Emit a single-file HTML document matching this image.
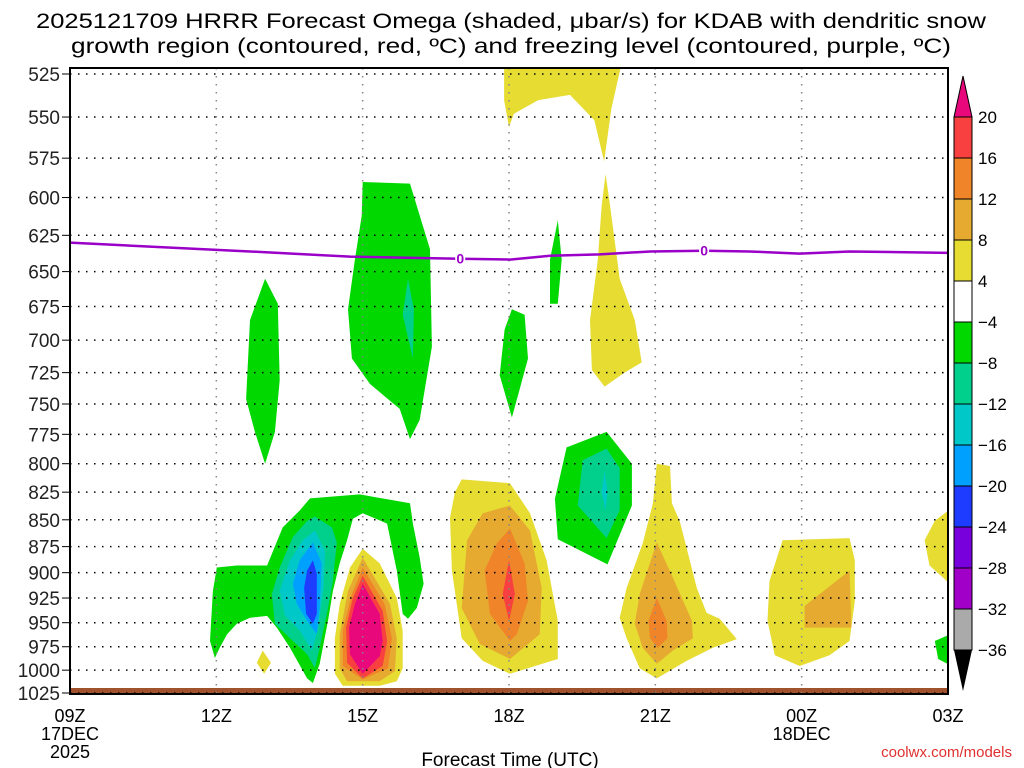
<!DOCTYPE html>
<html><head><meta charset="utf-8"><style>
html,body{margin:0;padding:0;background:#fff;}
svg{display:block;font-family:"Liberation Sans",sans-serif;}
</style></head><body>
<svg id="chart" width="1024" height="768" viewBox="0 0 1024 768">
<text x="511" y="28" font-size="21" text-anchor="middle" textLength="950" lengthAdjust="spacingAndGlyphs">2025121709 HRRR Forecast Omega (shaded, μbar/s) for KDAB with dendritic snow</text>
<text x="511" y="53" font-size="21" text-anchor="middle" textLength="880" lengthAdjust="spacingAndGlyphs">growth region (contoured, red, ºC) and freezing level (contoured, purple, ºC)</text>
<g id="shades"></g>
<g id="grid"></g>
<g id="frz"></g>
<rect x="70" y="68" width="878" height="626" fill="none" stroke="#000" stroke-width="2"/>
<g id="yax"></g>
<g id="xax"></g>
<text x="510" y="766" font-size="19" text-anchor="middle">Forecast Time (UTC)</text>
<text x="1012" y="757" font-size="15" text-anchor="end" fill="#e03030">coolwx.com/models</text>
<g id="cbar"></g>
</svg>
<script>
const pressureTicks=[525,550,575,600,625,650,675,700,725,750,775,800,825,850,875,900,925,950,975,1000,1025];
const timeTicks=[0,3,6,9,12,15,18];
const timeLabels=["09Z","12Z","15Z","18Z","21Z","00Z","03Z"];
const dateLabels={0:["17DEC","2025"],15:["18DEC"]};
const cbLevels=[20,16,12,8,4,-4,-8,-12,-16,-20,-24,-28,-32,-36];
const cbColors=["#f84040","#f08428","#e6aa30","#e6dc32","#ffffff","#00d800","#00d08c","#00c8c8","#00a0ff","#1e3cff","#7800dc","#a000c8","#aaaaaa"];
const C={y:"#e6dc32",g:"#e6aa30",o:"#f08428",r:"#f84040",m:"#e8087c",gr:"#00d800",te:"#00d08c",cy:"#00c8c8",bl:"#00a0ff",db:"#1e3cff"};
const regions=[
["y",[[8.9,520],[11.3,520],[11.1,545],[10.95,577],[10.75,552],[10.25,537],[9.6,540],[9.1,548],[9.0,556],[8.9,540]]],
["y",[[10.98,585],[11.07,605],[11.27,655],[11.58,685],[11.72,717],[11.37,725],[10.96,736],[10.7,723],[10.66,685],[10.82,641.6],[10.9,605]]],
["gr",[[6.0,590],[6.97,591],[7.38,634.5],[7.42,705],[7.17,763],[6.97,779],[6.76,754],[6.15,734],[5.78,714],[5.70,677],[5.84,641.6],[5.98,612]]],
["te",[[6.93,655],[7.05,677],[7.03,714],[6.82,681]]],
["gr",[[4.0,655],[4.26,673],[4.30,731],[4.2,773],[4.0,800],[3.79,773],[3.61,746],[3.69,685]]],
["gr",[[9.06,677],[9.32,681],[9.39,714],[9.22,738],[9.06,761],[8.81,727],[8.91,692]]],
["gr",[[10.0,615],[10.08,641.6],[10.0,673],[9.84,673],[9.84,641.6]]],
["gr",[[11.0,773],[11.52,800],[11.52,837],[11.02,892],[10.0,868],[9.94,831],[10.18,786]]],
["te",[[11.0,787],[11.27,804],[11.27,841],[11.0,867],[10.41,837],[10.51,797]]],
["cy",[[10.96,806],[11.02,825],[10.98,842],[10.9,825]]],
["gr",[[4.92,830.6],[5.94,827],[6.97,835],[7.03,853.5],[7.17,885.5],[7.25,911],[7.11,935],[6.93,946],[6.82,941],[6.70,898],[6.50,853.5],[6.0,844],[5.80,849],[5.68,869],[5.53,891],[5.39,918],[5.29,948],[5.12,993],[4.98,1014],[4.86,1009],[4.51,976],[4.24,955],[4.04,943],[3.69,945],[3.42,951],[3.22,962],[3.07,976],[2.97,987],[2.87,969],[2.93,918],[3.01,895],[3.42,893],[4.04,893],[4.36,857],[4.71,841.5]]],
["te",[[5.02,847],[5.37,857],[5.47,871],[5.39,908],[5.29,935],[5.12,976],[5.02,998],[4.86,983],[4.51,966],[4.2,951],[4.14,921],[4.3,895],[4.57,866],[4.86,851]]],
["cy",[[5.02,860],[5.23,879],[5.2,915],[5.08,958],[4.96,979],[4.71,958],[4.41,943],[4.3,918],[4.51,888],[4.77,869]]],
["bl",[[4.98,871],[5.16,891],[5.12,935],[5.06,962],[4.86,948],[4.65,931],[4.57,911],[4.71,888]]],
["db",[[4.98,888],[5.06,901],[5.06,941],[4.98,951],[4.84,941],[4.8,915],[4.86,898]]],
["y",[[3.95,979],[4.12,992],[3.98,1004],[3.83,992]]],
["y",[[6.0,877],[6.35,891],[6.70,925],[6.82,958.5],[6.82,998],[6.70,1012],[6.35,1017],[5.59,1017],[5.43,1004],[5.43,966],[5.53,931],[5.74,895]]],
["g",[[6.0,885.5],[6.56,931],[6.70,966],[6.66,1001],[6.35,1012],[5.68,1012],[5.53,998],[5.53,962],[5.70,918]]],
["o",[[6.0,895],[6.45,931],[6.60,966],[6.52,998],[6.0,1010],[5.59,995.5],[5.59,958.5],[5.78,921]]],
["r",[[6.0,903],[6.41,938],[6.50,969],[6.41,995.5],[6.0,1009],[5.68,992],[5.66,955],[5.80,925]]],
["m",[[6.0,911],[6.35,941],[6.41,969],[6.35,985],[6.0,1004],[5.74,983],[5.72,955],[5.84,931]]],
["y",[[8.03,813.7],[9.02,817],[9.43,844],[9.77,888],[10.0,948],[10.0,988],[9.02,1004],[8.46,990],[8.03,966],[7.83,898],[7.79,848],[7.89,825]]],
["g",[[9.02,837],[9.43,860],[9.67,915],[9.63,962],[9.02,988],[8.40,972],[8.03,935],[8.14,869],[8.46,844]]],
["o",[[9.02,858],[9.32,891],[9.39,928],[9.16,962],[9.02,969],[8.61,941],[8.50,898],[8.75,872]]],
["r",[[9.0,888],[9.12,921],[9.0,948],[8.87,921]]],
["y",[[12.03,800],[12.30,802],[12.34,835],[12.5,851],[12.85,915],[13.05,940],[13.32,946],[13.67,967],[13.18,976],[12.64,990],[12.03,1009],[11.68,998],[11.41,966],[11.27,945],[11.41,915],[11.74,872],[11.95,835]]],
["g",[[12.03,871],[12.36,905],[12.75,948],[12.77,966],[12.36,979],[12.03,993],[11.74,976],[11.58,951],[11.68,921]]],
["o",[[12.03,925],[12.23,948],[12.25,966],[12.05,976],[11.89,966],[11.86,948]]],
["y",[[14.61,869],[15.98,867],[16.09,888],[16.09,928],[15.98,969],[15.57,984],[14.96,995.5],[14.45,984],[14.30,948],[14.34,908]]],
["g",[[15.06,933],[15.98,898],[16.02,955],[15.06,955]]],
["y",[[18.2,835],[17.73,851],[17.52,869],[17.62,893],[18.2,918]]],
["gr",[[18.2,958.5],[17.73,969],[17.8,988],[18.2,999]]]
];
const frzHours=[0,1.64,3.69,5.74,7.99,9.02,9.84,10.86,11.89,13.01,13.93,14.96,15.98,18];
const frzPres=[630,632.7,636,639.6,641,641.6,639,638,636,635.5,636,637.5,636,637];
const frzLabelHours=[8,13];

const NS="http://www.w3.org/2000/svg";
const X0=70,X1=948,Y0=74,Y1=693;
const lnTop=Math.log(525),lnBot=Math.log(1025);
function xs(h){return X0+h*(X1-X0)/18;}
function ys(p){return Y0+(Math.log(p)-lnTop)*(Y1-Y0)/(lnBot-lnTop);}
function mk(tag,attrs,parent){const e=document.createElementNS(NS,tag);for(const k in attrs)e.setAttribute(k,attrs[k]);parent.appendChild(e);return e;}

const clip=mk("clipPath",{id:"pc"},document.getElementById("chart"));
mk("rect",{x:X0,y:68,width:X1-X0,height:Y1-68+1},clip);
const sh=document.getElementById("shades");
sh.setAttribute("clip-path","url(#pc)");
regions.forEach((r,i)=>{
  const pts=r[1].map(q=>xs(q[0]).toFixed(1)+","+ys(q[1]).toFixed(1)).join(" ");
  const e=mk("polygon",{points:pts,fill:C[r[0]],"stroke-linejoin":"round"},sh);
  
  
});
const gnd=mk("rect",{x:X0,y:688,width:X1-X0,height:6,fill:"#a0522d"},sh);



const gr=document.getElementById("grid");
pressureTicks.forEach(p=>{
  const y=ys(p);
  const l=mk("line",{x1:X0,x2:X1,y1:y,y2:y,stroke:"#000","stroke-width":1.5,"stroke-dasharray":"1.5 6.5"},gr);
  
  
});
timeTicks.forEach(h=>{
  const x=xs(h);
  const l=mk("line",{x1:x,x2:x,y1:68,y2:Y1,stroke:"#888","stroke-width":1.5,"stroke-dasharray":"1.5 6.5"},gr);
  
  
});

const fz=document.getElementById("frz");
const fp=mk("polyline",{points:frzHours.map((h,i)=>xs(h)+","+ys(frzPres[i])).join(" "),fill:"none",stroke:"#9a00c8","stroke-width":2.5},fz);


frzLabelHours.forEach(h=>{
  let j=0;while(j<frzHours.length-2&&frzHours[j+1]<h)j++;
  const t=(h-frzHours[j])/(frzHours[j+1]-frzHours[j]);
  const p=frzPres[j]+t*(frzPres[j+1]-frzPres[j]);
  const bg=mk("rect",{x:xs(h)-5,y:ys(p)-7,width:10,height:14,fill:"#fff"},fz);
  
  
  const tx=mk("text",{x:xs(h),y:ys(p)+5,"font-size":14,"font-weight":"bold","text-anchor":"middle",fill:"#9a00c8"},fz);
  tx.textContent="0";
  
  
});

const ya=document.getElementById("yax");
pressureTicks.forEach(p=>{
  const y=ys(p);
  const t=mk("text",{x:60,y:y+7,"font-size":19,"text-anchor":"end",fill:"#222"},ya);
  t.textContent=p;
  
  
  mk("line",{x1:62,x2:70,y1:y,y2:y,stroke:"#000","stroke-width":1},ya);
});
const xa=document.getElementById("xax");
timeTicks.forEach((h,i)=>{
  const x=xs(h);
  const t=mk("text",{x:x,y:722,"font-size":18,"text-anchor":"middle"},xa);
  t.textContent=timeLabels[i];
  
  
  (dateLabels[h]||[]).forEach((s,k)=>{
    const d=mk("text",{x:x,y:740+k*18,"font-size":18,"text-anchor":"middle"},xa);
    d.textContent=s;
    
    
  });
});

const cb=document.getElementById("cbar");
const CX=954,CW=18,CT=117,CB=650;
const step=(CB-CT)/(cbLevels.length-1);
const tri=mk("polygon",{points:`${CX},${CT} ${CX+CW},${CT} ${CX+CW/2},76`,fill:"#e8087c",stroke:"#000"},cb);


cbColors.forEach((c,i)=>{
  const r=mk("rect",{x:CX,y:CT+i*step,width:CW,height:step,fill:c,stroke:"#000","stroke-width":1},cb);
  
  
});
const tri2=mk("polygon",{points:`${CX},${CB} ${CX+CW},${CB} ${CX+CW/2},691`,fill:"#000"},cb);


cbLevels.forEach((v,i)=>{
  const t=mk("text",{x:978,y:CT+i*step+6,"font-size":17},cb);
  t.textContent=v<0?"\u2212"+(-v):String(v);
  
  
});
</script>
</body></html>
